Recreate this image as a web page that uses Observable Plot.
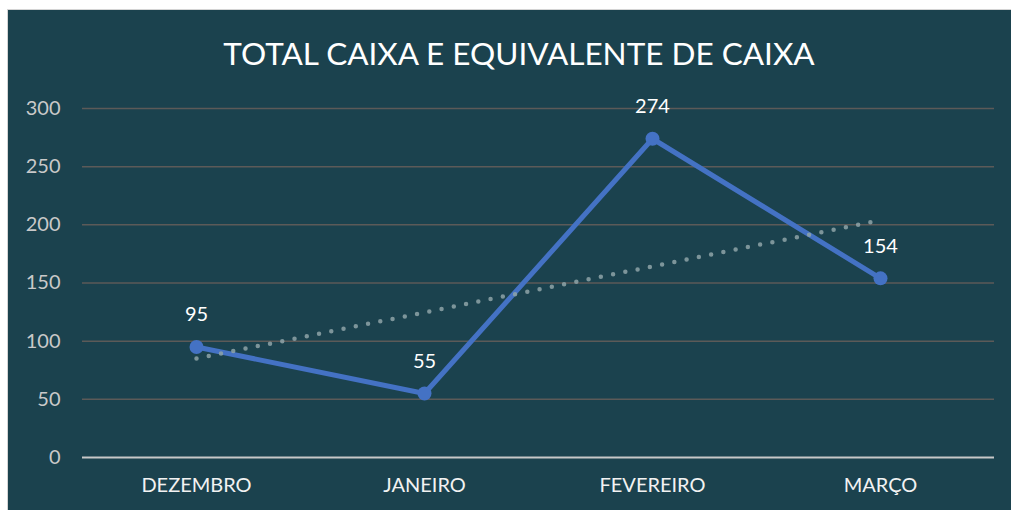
<!DOCTYPE html>
<html>
<head>
<meta charset="utf-8">
<script src="https://cdn.jsdelivr.net/npm/d3@7"></script>
<script src="https://cdn.jsdelivr.net/npm/@observablehq/plot@0.6"></script>
<style>
  html, body { margin: 0; padding: 0; background: #ffffff; }
  #frame {
    position: absolute; left: 7px; top: 9px; width: 1004px; height: 501px;
    border-left: 1px solid #d4d4d4; border-top: 1px solid #d4d4d4;
    background: #1b424e; overflow: hidden;
  }
  #title {
    height: 81px; line-height: 86px; text-align: center; color: #ffffff;
    font-family: Lato, "Open Sans", sans-serif; font-size: 31.5px; letter-spacing: 0px;
    padding-left: 18px;
  }
</style>
</head>
<body>
<div id="frame">
  <div id="title">TOTAL CAIXA E EQUIVALENTE DE CAIXA</div>
  <div id="chart"></div>
</div>
<script>
const months = ["DEZEMBRO", "JANEIRO", "FEVEREIRO", "MARÇO"];
const values = [95, 55, 274, 154];
const yTicks = [0, 50, 100, 150, 200, 250, 300];

const data = months.map((m, i) => ({idx: i, month: m, value: values[i]}));

const chart = Plot.plot({
  width: 1003,
  height: 419,
  marginTop: 17,
  marginBottom: 53,
  marginLeft: 74,
  marginRight: 17,
  style: {background: "transparent", fontFamily: "Lato, 'Open Sans', sans-serif"},
  x: {domain: [-0.5, 3.5], ticks: [0, 1, 2, 3], tickFormat: i => months[i], tickSize: 0, tickPadding: 20, label: null},
  y: {domain: [0, 300], ticks: yTicks, tickSize: 0, tickPadding: 22, label: null},
  marks: [
    Plot.ruleY(yTicks.filter(t => t > 0), {stroke: "#5c5a58", strokeWidth: 1.5}),
    Plot.ruleY([0], {stroke: "#c8c8c8", strokeWidth: 2}),
    Plot.axisY({ticks: yTicks, tickSize: 0, tickPadding: 22, fontSize: 20, color: "#c9c9c9", label: null}),
    Plot.axisX({ticks: [0, 1, 2, 3], tickFormat: i => months[i], tickSize: 0, tickPadding: 20, fontSize: 20, color: "#f2f2f2", label: null}),
    Plot.line(data, {x: "idx", y: "value", stroke: "#4472c4", strokeWidth: 5, strokeLinejoin: "round"}),
    Plot.linearRegressionY(data, {x: "idx", y: "value", ci: 0, stroke: "#8ea3a8", strokeOpacity: 0.85, strokeWidth: 4.5, strokeDasharray: "0,12.5", strokeLinecap: "round"}),
    Plot.dot(data, {x: "idx", y: "value", r: 7, fill: "#4472c4", stroke: "none"}),
    Plot.text(data, {x: "idx", y: "value", text: d => String(d.value), dy: -32, fill: "#ffffff", fontSize: 20})
  ]
});
document.getElementById("chart").appendChild(chart);
</script>
</body>
</html>
